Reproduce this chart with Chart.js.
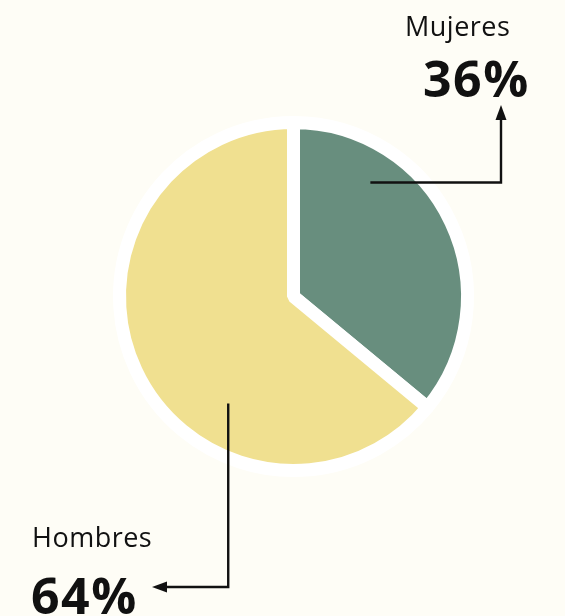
<!DOCTYPE html>
<html>
<head>
<meta charset="utf-8">
<script src="https://cdn.jsdelivr.net/npm/chart.js@4"></script>
<style>
  html, body { margin: 0; padding: 0; background: #fefdf6; }
  #wrap { width: 565px; height: 616px; }
</style>
</head>
<body>
<div id="wrap"><canvas id="myChart" width="565" height="616"></canvas></div>
<script>
// datos
var categorias = ['Mujeres', 'Hombres'];
var porcentajes = [36, 64];
var colores = ['#688e7e', '#f0e090'];

// Etiquetas con flecha (se dibujan encima del pastel)
var etiquetasFlecha = {
    id: 'etiquetasFlecha',
    afterDraw: function (chart) {
        var ctx = chart.ctx;
        var arcs = chart.getDatasetMeta(0).data;
        var cx = arcs[0].x, cy = arcs[0].y, r = arcs[0].outerRadius;

        // punto dentro del sector (angulo desde arriba, en grados, y fraccion del radio)
        function punto(ang, frac) {
            var a = ang * Math.PI / 180;
            return { x: cx + Math.sin(a) * r * frac, y: cy - Math.cos(a) * r * frac };
        }

        ctx.save();
        ctx.strokeStyle = '#111';
        ctx.fillStyle = '#111';
        ctx.lineWidth = 2.4;

        // Mujeres: horizontal a la derecha y luego hacia arriba
        var p1 = punto(34, 0.79);
        ctx.beginPath();
        ctx.moveTo(p1.x, p1.y);
        ctx.lineTo(501, p1.y);
        ctx.lineTo(501, 118);
        ctx.stroke();
        ctx.beginPath();
        ctx.moveTo(501, 105);
        ctx.lineTo(495.5, 120);
        ctx.lineTo(506.5, 120);
        ctx.closePath();
        ctx.fill();

        // Hombres: hacia abajo y luego a la izquierda
        var p2 = punto(211.4, 0.72);
        ctx.beginPath();
        ctx.moveTo(p2.x, p2.y);
        ctx.lineTo(p2.x, 587);
        ctx.lineTo(165, 587);
        ctx.stroke();
        ctx.beginPath();
        ctx.moveTo(152, 587);
        ctx.lineTo(167, 581.5);
        ctx.lineTo(167, 592.5);
        ctx.closePath();
        ctx.fill();

        // textos
        ctx.textAlign = 'left';
        ctx.textBaseline = 'alphabetic';
        ctx.font = '27px "Open Sans"';
        ctx.letterSpacing = '0.5px';
        ctx.fillText(categorias[0], 405, 36);
        ctx.fillText(categorias[1], 32, 547);
        ctx.font = 'bold 50px "Open Sans"';
        ctx.letterSpacing = '1.5px';
        ctx.fillText(porcentajes[0] + '%', 423, 97);
        ctx.fillText(porcentajes[1] + '%', 31, 614);
        ctx.restore();
    }
};

var ctx = document.getElementById('myChart').getContext('2d');
var myChart = new Chart(ctx, {
    type: 'pie',
    data: {
        labels: categorias,
        datasets: [{
            data: porcentajes,
            backgroundColor: colores,
            borderColor: '#ffffff',
            borderWidth: 13,
            hoverOffset: 0
        }]
    },
    options: {
        responsive: false,
        animation: false,
        layout: {
            padding: { left: 113, right: 91, top: 116, bottom: 139 }
        },
        plugins: {
            legend: { display: false },
            tooltip: { enabled: false }
        }
    },
    plugins: [etiquetasFlecha]
});
</script>
</body>
</html>
